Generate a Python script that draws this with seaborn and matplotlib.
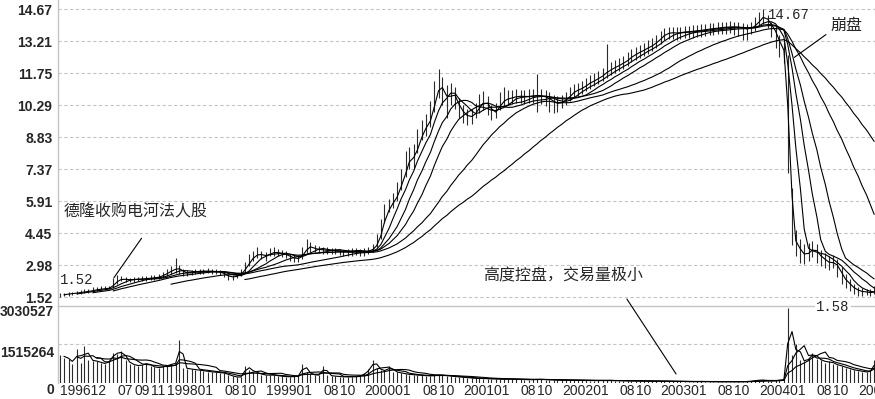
import numpy as np
import pandas as pd
import matplotlib
matplotlib.use("Agg")
import matplotlib.pyplot as plt
import matplotlib.dates as mdates
import matplotlib.transforms as mtransforms
from matplotlib.patches import ConnectionPatch
import seaborn as sns

# ---------------- data (semi-monthly) ----------------
close = [
    1.62, 1.65, 1.68, 1.70, 1.72, 1.75, 1.78, 1.80, 1.84, 1.88, 1.90, 1.92,
    1.95, 2.15, 2.32, 2.35, 2.33, 2.32, 2.34, 2.35, 2.36, 2.38, 2.40, 2.42, 2.45,
    2.55, 2.65, 2.75, 2.85, 2.80, 2.65, 2.62, 2.65, 2.68, 2.70, 2.70, 2.72, 2.70, 2.68, 2.66,
    2.55, 2.45, 2.45, 2.50, 2.60, 2.90, 3.20, 3.40, 3.50, 3.45, 3.40,
    3.55, 3.58, 3.55, 3.52, 3.45, 3.35, 3.30, 3.28, 3.50, 3.85, 3.80, 3.72, 3.70, 3.68, 3.65, 3.65, 3.62, 3.60, 3.58, 3.58, 3.58, 3.60, 3.58, 3.60,
    3.65, 3.75, 4.00, 4.60, 5.30, 5.70, 5.90, 6.30, 6.80, 7.50, 7.90, 7.90, 8.60, 9.10, 9.35, 9.80, 10.60, 11.30, 10.90, 10.50, 10.90, 10.60, 10.10, 9.90,
    9.75, 9.80, 10.00, 10.30, 10.45, 10.30, 9.95, 10.00, 10.40, 10.55, 10.60, 10.65, 10.70, 10.70, 10.68, 10.70, 10.72, 10.75, 10.70, 10.65, 10.55, 10.40, 10.35,
    10.45, 10.60, 10.80, 10.95, 11.00, 11.10, 11.25, 11.35, 11.45, 11.55, 11.70, 11.85, 11.95, 12.05, 12.15, 12.25, 12.40, 12.55, 12.65, 12.75, 12.85, 12.95, 13.05, 13.20,
    13.40, 13.55, 13.60, 13.60, 13.58, 13.62, 13.65, 13.65, 13.68, 13.70, 13.72, 13.75, 13.78, 13.80, 13.82, 13.85, 13.85, 13.88, 13.85, 13.85, 13.80, 13.75, 13.85,
    13.95, 14.25, 14.35, 14.10, 13.85, 13.50, 13.00, 12.60,
    8.00, 4.30, 3.90, 3.55, 3.45, 3.60, 3.75, 3.55, 3.30, 3.20, 3.05, 3.15, 2.85, 2.45, 2.25, 2.05, 1.90, 1.80, 1.78, 1.75, 1.72, 1.80,
]
high = [
    1.70, 1.72, 1.75, 1.78, 1.80, 1.85, 1.88, 1.90, 1.98, 2.00, 2.02, 2.05,
    2.05, 2.40, 2.55, 2.50, 2.45, 2.42, 2.45, 2.46, 2.48, 2.50, 2.52, 2.55, 2.58,
    2.68, 2.80, 2.95, 3.30, 3.00, 2.80, 2.75, 2.78, 2.80, 2.82, 2.82, 2.85, 2.82, 2.80, 2.78,
    2.68, 2.58, 2.55, 2.62, 2.80, 3.15, 3.50, 3.65, 3.80, 3.65, 3.60,
    3.75, 3.80, 3.72, 3.68, 3.62, 3.50, 3.45, 3.45, 3.80, 4.20, 4.05, 3.90, 3.85, 3.82, 3.80, 3.78, 3.75, 3.72, 3.70, 3.72, 3.75, 3.75, 3.72, 3.75,
    3.80, 3.95, 4.40, 5.10, 5.80, 6.00, 6.30, 6.80, 7.40, 8.20, 8.40, 8.50, 9.20, 9.60, 9.90, 10.50, 11.40, 11.95, 11.60, 11.20, 11.30, 11.10, 10.60, 10.30,
    10.10, 10.10, 10.40, 10.80, 10.95, 10.70, 10.30, 10.40, 10.90, 11.10, 11.00, 11.00, 11.05, 11.00, 11.00, 11.05, 11.05, 11.70, 11.05, 11.00, 10.90, 10.75, 10.70,
    10.75, 10.90, 11.10, 11.25, 11.30, 11.40, 11.55, 11.65, 11.75, 11.85, 12.00, 13.10, 12.25, 12.35, 12.45, 12.55, 12.70, 12.85, 12.95, 13.05, 13.15, 13.25, 13.35, 13.50,
    13.70, 13.80, 13.85, 13.85, 13.85, 13.88, 13.90, 13.90, 13.95, 13.95, 13.98, 14.00, 14.05, 14.05, 14.08, 14.10, 14.10, 14.12, 14.10, 14.10, 14.05, 14.00, 14.10,
    14.30, 14.55, 14.67, 14.40, 14.10, 13.90, 13.50, 13.20,
    12.60, 6.50, 4.60, 4.20, 3.95, 4.00, 4.10, 3.95, 3.70, 3.55, 3.40, 3.45, 3.25, 2.90, 2.60, 2.35, 2.15, 2.00, 1.95, 1.92, 1.90, 2.05,
]
low = [
    1.52, 1.58, 1.60, 1.62, 1.65, 1.68, 1.70, 1.72, 1.76, 1.80, 1.82, 1.85,
    1.88, 1.95, 2.15, 2.25, 2.22, 2.22, 2.24, 2.25, 2.26, 2.28, 2.30, 2.32, 2.35,
    2.42, 2.50, 2.60, 2.65, 2.60, 2.50, 2.50, 2.55, 2.58, 2.60, 2.60, 2.62, 2.60, 2.58, 2.55,
    2.45, 2.30, 2.32, 2.40, 2.50, 2.65, 2.95, 3.20, 3.30, 3.25, 3.20,
    3.40, 3.42, 3.40, 3.38, 3.30, 3.20, 3.15, 3.12, 3.25, 3.55, 3.60, 3.58, 3.55, 3.52, 3.50, 3.50, 3.48, 3.45, 3.42, 3.40, 3.42, 3.45, 3.40, 3.42,
    3.50, 3.60, 3.80, 4.20, 4.90, 5.40, 5.60, 5.90, 6.40, 7.00, 7.40, 7.40, 8.10, 8.70, 8.90, 9.30, 10.00, 10.60, 10.30, 9.70, 10.30, 10.10, 9.70, 9.50,
    9.40, 9.45, 9.70, 9.95, 10.05, 9.85, 9.60, 9.70, 10.05, 10.25, 10.30, 10.35, 10.40, 10.40, 10.35, 10.40, 10.40, 10.00, 10.35, 10.25, 10.00, 9.95, 10.00,
    10.15, 10.30, 10.50, 10.65, 10.70, 10.80, 10.95, 11.05, 11.15, 11.25, 11.40, 11.55, 11.65, 11.75, 11.85, 11.95, 12.10, 12.25, 12.35, 12.45, 12.55, 12.65, 12.75, 12.90,
    13.10, 13.25, 13.30, 13.30, 13.28, 13.32, 13.35, 13.35, 13.38, 13.40, 13.42, 13.45, 13.48, 13.50, 13.52, 13.55, 13.55, 13.58, 13.50, 13.45, 13.25, 13.25, 13.55,
    13.70, 13.95, 14.00, 13.80, 13.40, 12.90, 12.50, 12.20,
    7.20, 3.90, 3.40, 3.10, 3.05, 3.20, 3.35, 3.10, 2.95, 2.85, 2.75, 2.85, 2.45, 2.15, 1.95, 1.80, 1.65, 1.58, 1.60, 1.62, 1.60, 1.65,
]
volume_k = [
    1100, 1000, 950, 750, 1350, 800, 1450, 900, 880, 850, 780, 760,
    900, 1200, 1150, 1250, 900, 750, 700, 680, 720, 800, 650, 620, 600,
    650, 700, 750, 800, 1680, 600, 560, 540, 520, 500, 480, 450, 430, 420, 400,
    380, 300, 260, 220, 250, 680, 520, 450, 380, 330, 300,
    320, 300, 280, 260, 250, 240, 260, 280, 750, 450, 350, 300, 320, 680, 300, 280, 260, 250, 240, 240, 250, 260, 300, 400,
    550, 900, 600, 500, 480, 650, 450, 420, 380, 350, 330, 320, 300, 300, 280, 280, 300, 320, 300, 280, 260, 250, 230, 220,
    200, 190, 180, 180, 170, 170, 160, 160, 150, 150, 160, 150, 140, 140, 130, 130, 140, 150, 140, 130, 120, 120, 110,
    110, 110, 100, 110, 100, 100, 100, 95, 95, 100, 100, 110, 100, 90, 90, 85, 85, 80, 80, 80, 75, 75, 70, 70,
    70, 65, 65, 60, 60, 60, 55, 55, 55, 60, 60, 55, 55, 55, 50, 50, 55, 55, 50, 50, 55, 60, 80,
    100, 120, 110, 90, 80, 100, 120, 150,
    2950, 1100, 1550, 900, 850, 1000, 1200, 950, 900, 800, 850, 750, 700, 650, 600, 550, 500, 480, 450, 420, 500, 900,
]
price_ticks = [14.67, 13.21, 11.75, 10.29, 8.83, 7.37, 5.91, 4.45, 2.98, 1.52]
vol_ticks_k = [0, 1515.264, 3030.527]
vol_tick_labels = ["0", "1515264", "3030527"]
x_label_dates = ["1996-12-01", "1997-07-01", "1997-09-01", "1997-11-01", "1998-01-01",
                 "1998-08-01", "1998-10-01", "1999-01-01", "1999-08-01", "1999-10-01",
                 "2000-01-01", "2000-08-01", "2000-10-01", "2001-01-01", "2001-08-01",
                 "2001-10-01", "2002-01-01", "2002-08-01", "2002-10-01", "2003-01-01",
                 "2003-08-01", "2003-10-01", "2004-01-01", "2004-08-01", "2004-10-01",
                 "2005-01-01"]
x_labels = ["199612", "07", "09", "11", "199801", "08", "10", "199901", "08", "10",
            "200001", "08", "10", "200101", "08", "10", "200201", "08", "10",
            "200301", "08", "10", "200401", "08", "10", "200501"]
ma_windows = [2, 5, 9, 14, 28, 46]
vol_ma_windows = [2, 5, 10]

dates = pd.date_range("1996-12-01", periods=len(close), freq="SMS")
df = pd.DataFrame({"date": dates, "close": close, "high": high, "low": low,
                   "vol": volume_k})

# ---------------- style ----------------
sns.set_style("white")
plt.rcParams["font.family"] = ["Liberation Sans", "Noto Sans CJK SC", "DejaVu Sans"]

W, H = 875, 399
fig = plt.figure(figsize=(W / 100, H / 100), dpi=100)
fig.patch.set_facecolor("white")

grid_col = "#c4c4c4"
dash = (0, (3, 2.2))

ax_vol = fig.add_axes([58 / W, 1 - 383 / H, 1 - 58 / W, 77 / H])
ax_price = fig.add_axes([58 / W, 1 - 306 / H, 1 - 58 / W, 306 / H])

xmin = pd.Timestamp("1996-11-23")
xmax = pd.Timestamp("2005-03-04")

# ---------------- price panel ----------------
ax_price.vlines(df["date"], df["low"], df["high"], color="#2a2a2a", lw=0.8, zorder=3)
for w in ma_windows:
    sns.lineplot(x=df["date"], y=df["close"].rolling(w).mean(), ax=ax_price,
                 color="black", lw=0.8, zorder=4, legend=False)
ax_price.set_xlim(xmin, xmax)
ax_price.set_ylim(1.123, 15.095)
ax_price.set_yticks(price_ticks)
ax_price.set_yticklabels([f"{v:.2f}" for v in price_ticks], fontweight="bold", fontsize=10)
ax_price.tick_params(axis="y", length=0, pad=4)
ax_price.tick_params(axis="x", length=0, labelbottom=False)
ax_price.grid(True, axis="y", color=grid_col, linestyle=dash, lw=0.8)
ax_price.grid(False, axis="x")
ax_price.set_xlabel("")
ax_price.set_ylabel("")
for s in ["top", "right"]:
    ax_price.spines[s].set_visible(False)
ax_price.spines["left"].set_color(grid_col)
ax_price.spines["bottom"].set_color(grid_col)
ax_price.spines["left"].set_linewidth(1.0)
ax_price.spines["bottom"].set_linewidth(1.0)
ax_price.set_facecolor("white")

# ---------------- volume panel ----------------
ax_vol.vlines(df["date"], 0, df["vol"], color="#2a2a2a", lw=0.8, zorder=3)
for w in vol_ma_windows:
    sns.lineplot(x=df["date"], y=df["vol"].rolling(w).mean(), ax=ax_vol,
                 color="black", lw=0.8, zorder=4, legend=False)
ax_vol.set_xlim(xmin, xmax)
ax_vol.set_ylim(0, 3030.527)
ax_vol.set_yticks(vol_ticks_k)
ax_vol.set_yticklabels([])
ax_vol.tick_params(axis="y", length=0)
ax_vol.grid(True, axis="y", color=grid_col, linestyle=dash, lw=0.8)
ax_vol.get_ygridlines()[0].set_visible(False)
ax_vol.get_ygridlines()[2].set_visible(False)
ax_vol.grid(False, axis="x")
ax_vol.set_xlabel("")
ax_vol.set_ylabel("")
for s in ["top", "right", "bottom"]:
    ax_vol.spines[s].set_visible(False)
ax_vol.spines["left"].set_color(grid_col)
ax_vol.spines["left"].set_linewidth(1.0)

ax_vol.set_xticks(pd.to_datetime(x_label_dates))
ax_vol.set_xticklabels(x_labels, ha="left", fontsize=10)
ax_vol.tick_params(axis="x", length=0, pad=0.5)

vol_offsets = [-7, -9, -6]
for val, lab, dy in zip(vol_ticks_k, vol_tick_labels, vol_offsets):
    tr = mtransforms.offset_copy(ax_vol.get_yaxis_transform(), fig=fig,
                                 x=-4, y=dy, units="dots")
    ax_vol.text(0, val, lab, transform=tr, ha="right", va="center",
                fontsize=10, fontweight="bold", clip_on=False)

# ---------------- annotations ----------------
d = lambda s: mdates.date2num(pd.Timestamp(s))
cjk = ["Noto Sans CJK SC", "DejaVu Sans"]
mono = ["Liberation Mono", "DejaVu Sans Mono"]

ax_price.text(d("1996-12-12"), 5.42, "德隆收购电河法人股", family=cjk, fontsize=11.5,
              ha="left", va="center", zorder=6)
ax_price.annotate("", xy=(d("1997-06-12"), 2.31), xytext=(d("1997-10-04"), 4.32),
                  arrowprops=dict(arrowstyle="-", lw=0.8, color="black"), zorder=6)

ax_price.text(d("2001-03-14"), 2.49, "高度控盘，交易量极小", family=cjk, fontsize=11.5,
              ha="left", va="center", zorder=6)
con = ConnectionPatch(xyA=(d("2002-08-29"), 1.44), coordsA=ax_price.transData,
                      xyB=(d("2003-02-27"), 354), coordsB=ax_vol.transData,
                      color="black", lw=0.8)
fig.add_artist(con)

ax_price.text(d("2004-09-19"), 13.95, "崩盘", family=cjk, fontsize=11.5,
              ha="left", va="center", zorder=6)
ax_price.annotate("", xy=(d("2004-05-01"), 12.40), xytext=(d("2004-09-12"), 13.59),
                  arrowprops=dict(arrowstyle="-", lw=0.8, color="black"), zorder=6)

ax_price.text(d("1996-11-30"), 2.31, "1.52", family=mono, fontsize=10,
              ha="left", va="center", zorder=6)
ax_price.text(d("2004-02-01"), 14.43, "14.67", family=mono, fontsize=10,
              ha="left", va="center", zorder=6)
ax_price.text(d("2004-07-29"), 1.09, "1.58", family=mono, fontsize=10,
              ha="left", va="center", zorder=6, clip_on=False,
              bbox=dict(facecolor="white", edgecolor="none", pad=1))

fig.savefig("out.png", dpi=100, facecolor="white")
